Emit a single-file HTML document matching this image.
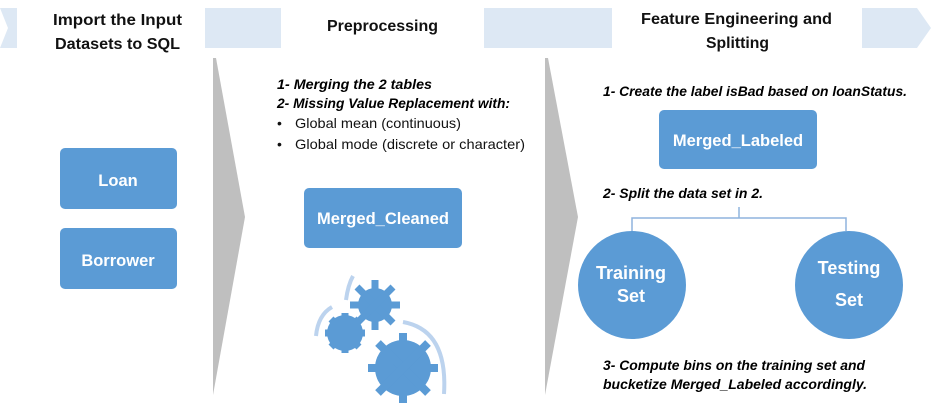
<!DOCTYPE html>
<html><head><meta charset="utf-8"><style>
body{margin:0;width:931px;height:405px;background:#fff;overflow:hidden;font-family:"Liberation Sans",sans-serif}
svg{position:absolute;left:0;top:0}
</style></head><body>
<svg width="931" height="405" viewBox="0 0 931 405" font-family="Liberation Sans, DejaVu Sans, sans-serif">
<g fill="#dde8f4">
<polygon points="0,8 17,8 17,48 0,48 8,28"/>
<rect x="205" y="8" width="76" height="40"/>
<rect x="484" y="8" width="128" height="40"/>
<polygon points="862,8 917,8 931,28 917,48 862,48"/>
</g>
<g font-weight="bold" font-size="16" fill="#111">
<text x="53" y="25" textLength="129" lengthAdjust="spacingAndGlyphs">Import the Input</text>
<text x="55" y="49" textLength="125" lengthAdjust="spacingAndGlyphs">Datasets to SQL</text>
<text x="327" y="31" textLength="111" lengthAdjust="spacingAndGlyphs">Preprocessing</text>
<text x="641" y="24" textLength="191" lengthAdjust="spacingAndGlyphs">Feature Engineering and</text>
<text x="706" y="48" textLength="63" lengthAdjust="spacingAndGlyphs">Splitting</text>
</g>
<g fill="#bfbfbf">
<polygon points="213,58 216,58 245,217 213,395"/>
<polygon points="545,58 548,58 578,217 545,395"/>
</g>
<g fill="#5b9bd5">
<rect x="60" y="148" width="117" height="61" rx="5"/>
<rect x="60" y="228" width="117" height="61" rx="5"/>
<rect x="304" y="188" width="158" height="60" rx="5"/>
<rect x="659" y="110" width="158" height="59" rx="5"/>
<circle cx="632" cy="285" r="54"/>
<circle cx="849" cy="285" r="54"/>
</g>
<g font-weight="bold" font-size="16.5" fill="#fff" text-anchor="middle">
<text x="118" y="186">Loan</text>
<text x="118" y="266">Borrower</text>
<text x="383" y="224">Merged_Cleaned</text>
<text x="738" y="146">Merged_Labeled</text>
<text x="631" y="279" font-size="18">Training</text>
<text x="631" y="302" font-size="18">Set</text>
<text x="849" y="274" font-size="18">Testing</text>
<text x="849" y="306" font-size="18">Set</text>
</g>
<g stroke="#8fb4dd" stroke-width="1.5" fill="none">
<line x1="739" y1="207" x2="739" y2="218"/>
<polyline points="632,231 632,218 846,218 846,231"/>
</g>
<g font-weight="bold" font-style="italic" font-size="13.5" fill="#000">
<text x="277" y="89" textLength="155" lengthAdjust="spacingAndGlyphs">1- Merging the 2 tables</text>
<text x="277" y="108" textLength="233" lengthAdjust="spacingAndGlyphs">2- Missing Value Replacement with:</text>
<text x="603" y="96" textLength="304" lengthAdjust="spacingAndGlyphs">1- Create the label isBad based on loanStatus.</text>
<text x="603" y="198" textLength="160" lengthAdjust="spacingAndGlyphs">2- Split the data set in 2.</text>
<text x="603" y="370" textLength="262" lengthAdjust="spacingAndGlyphs">3- Compute bins on the training set and</text>
<text x="603" y="389" textLength="264" lengthAdjust="spacingAndGlyphs">bucketize Merged_Labeled accordingly.</text>
</g>
<g font-size="14" fill="#111">
<text x="277" y="128">•</text><text x="295" y="128" textLength="166" lengthAdjust="spacingAndGlyphs">Global mean (continuous)</text>
<text x="277" y="149">•</text><text x="295" y="149" textLength="230" lengthAdjust="spacingAndGlyphs">Global mode (discrete or character)</text>
</g>
<g fill="#5b9bd5">
<circle cx="375" cy="305" r="17"/>
<g stroke="#5b9bd5" stroke-width="7">
<line x1="375" y1="280" x2="375" y2="330"/><line x1="350" y1="305" x2="400" y2="305"/>
<line x1="357" y1="287" x2="393" y2="323"/><line x1="393" y1="287" x2="357" y2="323"/>
</g>
<circle cx="345" cy="333" r="18"/>
<g stroke="#5b9bd5" stroke-width="7">
<line x1="345" y1="313" x2="345" y2="353"/><line x1="325" y1="333" x2="365" y2="333"/>
<line x1="331" y1="319" x2="359" y2="347"/><line x1="359" y1="319" x2="331" y2="347"/>
</g>
<circle cx="403" cy="368" r="28"/>
<g stroke="#5b9bd5" stroke-width="8">
<line x1="403" y1="333" x2="403" y2="403"/><line x1="368" y1="368" x2="438" y2="368"/>
<line x1="378" y1="343" x2="428" y2="393"/><line x1="428" y1="343" x2="378" y2="393"/>
</g>
</g>
<g fill="none" stroke="#bcd3ee" stroke-width="4">
<path d="M346,300 Q348,285 353,276"/>
<path d="M332,307 Q318,315 316,336"/>
<path d="M403,322 Q448,330 444,394"/>
</g>
</svg>
</body></html>
